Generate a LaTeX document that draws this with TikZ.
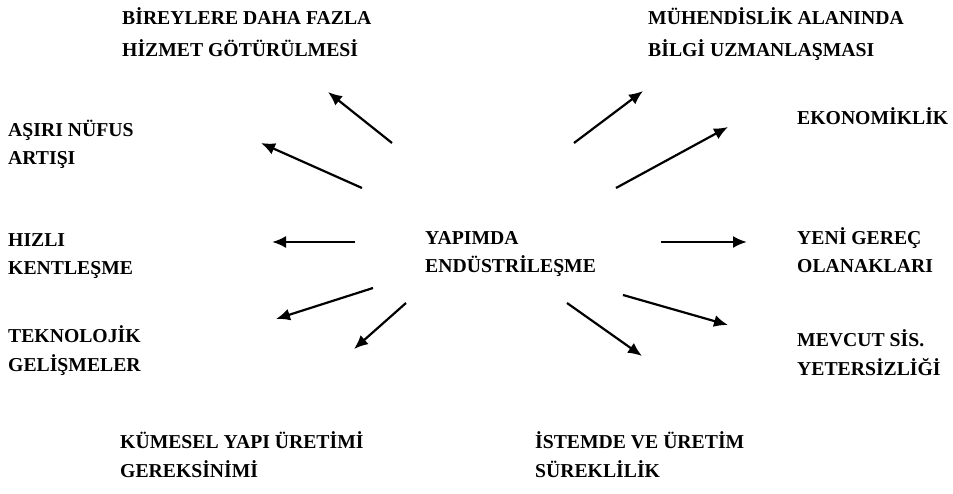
\documentclass[tikz,border=0pt]{standalone}
\usepackage{fontspec}
\setmainfont{Liberation Serif}
\usetikzlibrary{arrows.meta}
\tikzset{lbl/.style={anchor=base west, align=left, inner sep=0pt,
    font=\fontsize{19.7}{28.5}\selectfont\bfseries},
  arr/.style={line width=2.2pt, -{Latex[length=14pt,width=12pt]}}}

\begin{document}
\begin{tikzpicture}[x=1pt,y=-1pt]
\useasboundingbox (0,0) rectangle (953,494);
\node[lbl] (merkez) at (425,273) {YAPIMDA\\ENDÜSTRİLEŞME}; % centre
% labels round the centre (placed at the baseline of their last line)
\node[lbl] (birey) at (122,57) {BİREYLERE DAHA FAZLA\\[3.5pt]HİZMET GÖTÜRÜLMESİ};
\node[lbl] (muhen) at (648,57) {MÜHENDİSLİK ALANINDA\\[3.5pt]BİLGİ UZMANLAŞMASI};
\node[lbl] (nufus) at (8,165) {AŞIRI NÜFUS\\ARTIŞI};
\node[lbl] (ekono) at (797,125) {EKONOMİKLİK};
\node[lbl] (kent) at (8,275) {HIZLI\\KENTLEŞME};
\node[lbl] (gerec) at (797,273) {YENİ GEREÇ\\OLANAKLARI};
\node[lbl] (tekno) at (8,371) {TEKNOLOJİK\\GELİŞMELER};
\node[lbl] (mevcut) at (797,375) {MEVCUT SİS.\\YETERSİZLİĞİ};
\node[lbl] (kume) at (120,477) {KÜMESEL YAPI ÜRETİMİ\\GEREKSİNİMİ};
\node[lbl] (istem) at (535,477) {İSTEMDE VE ÜRETİM\\SÜREKLİLİK};
% arrow tails (a) and tips (b)
\coordinate (a1) at (392,143);  \coordinate (b1) at (328,92);
\coordinate (a2) at (362,188);  \coordinate (b2) at (261,143);
\coordinate (a3) at (355,242);  \coordinate (b3) at (272,242);
\coordinate (a4) at (373,288);  \coordinate (b4) at (276,319);
\coordinate (a5) at (406,303);  \coordinate (b5) at (354,349);
\coordinate (a6) at (567,303);  \coordinate (b6) at (642,356);
\coordinate (a7) at (623,295);  \coordinate (b7) at (728,325);
\coordinate (a8) at (661,242);  \coordinate (b8) at (747,242);
\coordinate (a9) at (616,188);  \coordinate (b9) at (728,127);
\coordinate (a10) at (574,143); \coordinate (b10) at (643,91);
\foreach \i in {1,...,10} \draw[arr] (a\i) -- (b\i);
\end{tikzpicture}
\end{document}
